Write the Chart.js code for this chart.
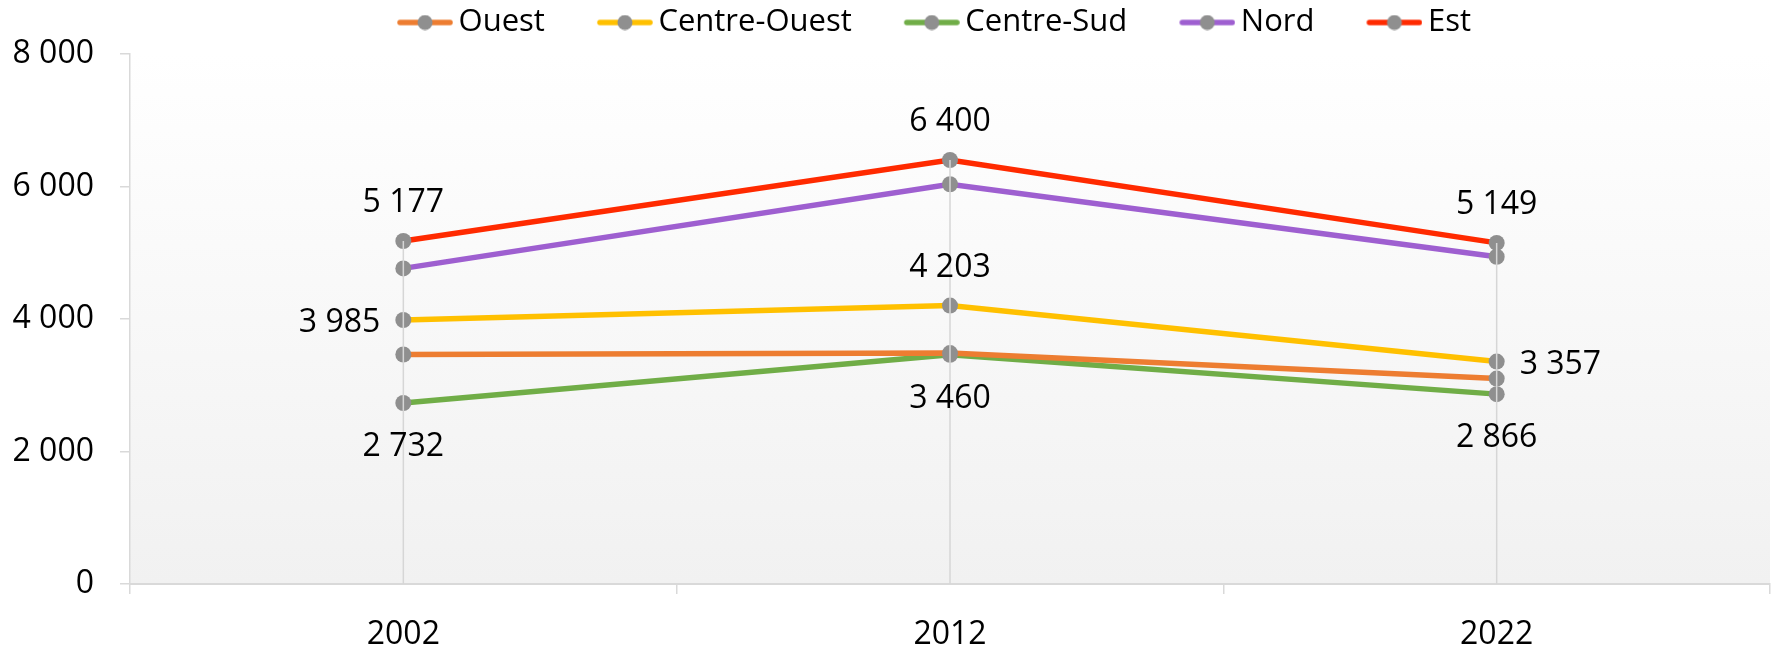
<!DOCTYPE html>
<html>
<head>
<meta charset="utf-8">
<script src="https://cdn.jsdelivr.net/npm/chart.js@4.4.1/dist/chart.umd.min.js"></script>
<style>
  html, body { margin: 0; padding: 0; background: #fff; }
  #wrap { width: 1773px; height: 648px; }
</style>
</head>
<body>
<div id="wrap"><canvas id="chart"></canvas></div>
<script>
const years = ['2002', '2012', '2022'];
const ouest = [3464, 3486, 3101];
const centreOuest = [3985, 4203, 3357];
const centreSud = [2732, 3460, 2866];
const nord = [4764, 6034, 4940];
const est = [5177, 6400, 5149];
const yTicks = [0, 2000, 4000, 6000, 8000];

// where each value label sits (only three series are labelled)
const centreOuestLabels = ['left', 'top', 'right'];
const centreSudLabels = ['bottom', 'bottom', 'bottom'];
const estLabels = ['top', 'top', 'top'];

const FONT = "'Open Sans', sans-serif";
const MARKER = '#8f8f8f';

const fmt = v => String(Math.round(v)).replace(/\B(?=(\d{3})+(?!\d))/g, ' ');

// legend swatch: line with a grey dot, drawn into a small canvas
function legendSwatch(color) {
  const c = document.createElement('canvas');
  c.width = 112;
  c.height = 16;
  const g = c.getContext('2d');
  g.strokeStyle = color;
  g.lineWidth = 5.5;
  g.lineCap = 'round';
  g.beginPath();
  g.moveTo(59, 8);
  g.lineTo(109, 8);
  g.stroke();
  g.fillStyle = MARKER;
  g.beginPath();
  g.arc(84, 8, 7.5, 0, Math.PI * 2);
  g.fill();
  return c;
}

function series(label, data, color, labelPos) {
  return {
    label,
    data,
    borderColor: color,
    backgroundColor: color,
    borderWidth: 5.5,
    pointRadius: 8,
    pointHoverRadius: 8,
    pointBackgroundColor: MARKER,
    pointBorderWidth: 0,
    tension: 0,
    swatch: legendSwatch(color),
    labelPos
  };
}

const plotBackground = {
  id: 'plotBackground',
  afterLayout(chart) {
    // legend sits a little right of the page centre and close to the top
    chart.legend.left += 26;
    chart.legend.right += 26;
    chart.legend.top -= 6;
    chart.legend.bottom -= 6;
  },
  beforeDraw(chart) {
    const { ctx, chartArea: a } = chart;
    const grad = ctx.createLinearGradient(0, a.top, 0, a.bottom);
    grad.addColorStop(0, '#ffffff');
    grad.addColorStop(1, '#f1f1f1');
    ctx.save();
    ctx.fillStyle = grad;
    ctx.fillRect(a.left, a.top, a.right - a.left, a.bottom - a.top);
    ctx.restore();
  }
};

const dropLinesAndLabels = {
  id: 'dropLinesAndLabels',
  afterDatasetsDraw(chart) {
    const { ctx, chartArea: a } = chart;
    ctx.save();
    // drop lines from the highest point of each year
    ctx.strokeStyle = '#d6d6d6';
    ctx.lineWidth = 1.5;
    years.forEach((_, i) => {
      let top = a.bottom, x = null;
      chart.data.datasets.forEach((ds, di) => {
        const pt = chart.getDatasetMeta(di).data[i];
        if (pt.y < top) top = pt.y;
        x = pt.x;
      });
      ctx.beginPath();
      ctx.moveTo(x, top);
      ctx.lineTo(x, a.bottom);
      ctx.stroke();
    });

    ctx.font = '32px ' + FONT;
    ctx.fillStyle = '#000';
    ctx.textBaseline = 'middle';
    chart.data.datasets.forEach((ds, di) => {
      if (!ds.labelPos) return;
      chart.getDatasetMeta(di).data.forEach((pt, i) => {
        const pos = ds.labelPos[i];
        let x = pt.x, y = pt.y;
        if (pos === 'top') { ctx.textAlign = 'center'; y -= 38; }
        else if (pos === 'bottom') { ctx.textAlign = 'center'; y += 44; }
        else if (pos === 'left') { ctx.textAlign = 'right'; x -= 23; y += 3; }
        else { ctx.textAlign = 'left'; x += 23; y += 3; }
        ctx.fillText(fmt(ds.data[i]), x, y);
      });
    });
    ctx.restore();
  }
};

new Chart(document.getElementById('chart'), {
  type: 'line',
  data: {
    labels: years,
    datasets: [
      series('Ouest', ouest, '#ed7d31'),
      series('Centre-Ouest', centreOuest, '#ffc000', centreOuestLabels),
      series('Centre-Sud', centreSud, '#70ad47', centreSudLabels),
      series('Nord', nord, '#9e5fd0'),
      series('Est', est, '#ff2a00', estLabels)
    ]
  },
  options: {
    responsive: true,
    maintainAspectRatio: false,
    animation: false,
    layout: { autoPadding: false, padding: { left: 0, right: 3, top: 1, bottom: 0 } },
    plugins: {
      tooltip: { enabled: false },
      legend: {
        position: 'top',
        labels: {
          usePointStyle: true,
          pointStyleWidth: 92,
          padding: 6,
          color: '#000',
          font: { family: FONT, size: 31 },
          generateLabels: chart => chart.data.datasets.map((ds, i) => ({
            text: ds.label,
            pointStyle: ds.swatch,
            fillStyle: 'transparent',
            strokeStyle: 'transparent',
            lineWidth: 0,
            fontColor: '#000',
            hidden: false,
            datasetIndex: i
          }))
        }
      }
    },
    scales: {
      x: {
        offset: true,
        border: { color: '#d9d9d9', width: 2 },
        grid: { offset: true, drawOnChartArea: false, drawTicks: true, tickLength: 10, color: '#d9d9d9', lineWidth: 1.5 },
        ticks: { color: '#000', padding: 22, font: { family: FONT, size: 32 } },
        afterFit: s => { s.height = 64; s.paddingLeft = 0; s.paddingRight = 0; }
      },
      y: {
        min: yTicks[0],
        max: yTicks[yTicks.length - 1],
        border: { color: '#d9d9d9', width: 1.5 },
        grid: { drawOnChartArea: false, drawTicks: true, tickLength: 10, color: '#d9d9d9', lineWidth: 1.5 },
        afterBuildTicks: s => { s.ticks = yTicks.map(v => ({ value: v })); },
        ticks: { color: '#000', padding: 26, font: { family: FONT, size: 32 }, callback: v => fmt(v) },
        afterFit: s => { s.width = 130; s.paddingTop = 54; }
      }
    }
  },
  plugins: [plotBackground, dropLinesAndLabels]
});
</script>
</body>
</html>
